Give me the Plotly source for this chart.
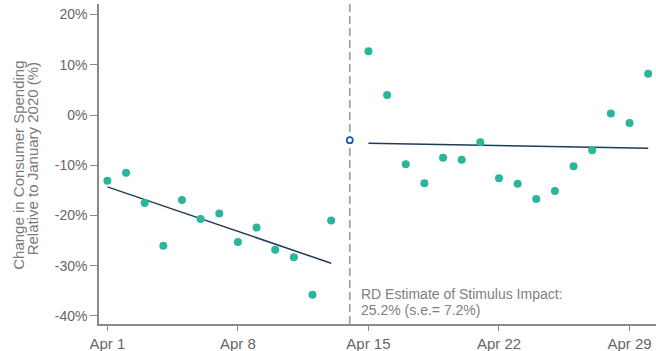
import plotly.graph_objects as go

pre_dates = ["2020-04-%02d" % d for d in range(1, 14)]
pre_values = [-13.1, -11.5, -17.5, -26.0, -16.9, -20.7, -19.6, -25.3, -22.4, -26.8, -28.3, -35.8, -21.0]
post_dates = ["2020-04-%02d" % d for d in range(15, 31)]
post_values = [12.7, 4.0, -9.8, -13.6, -8.5, -8.9, -5.4, -12.6, -13.7, -16.7, -15.1, -10.2, -7.0, 0.3, -1.6, 8.2]

pre_fit_dates = ["2020-04-01", "2020-04-13"]
pre_fit_values = [-14.3, -29.5]
post_fit_dates = ["2020-04-15", "2020-04-30"]
post_fit_values = [-5.6, -6.6]

cutoff_date = "2020-04-14"
cutoff_value = -5.0

tick_dates = ["2020-04-01", "2020-04-08", "2020-04-15", "2020-04-22", "2020-04-29"]
tick_labels = ["Apr 1", "Apr 8", "Apr 15", "Apr 22", "Apr 29"]
y_ticks = [20, 10, 0, -10, -20, -30, -40]
y_tick_labels = ["20%", "10%", "0%", "-10%", "-20%", "-30%", "-40%"]

title_lines = ["Change in Consumer Spending", "Relative to January 2020 (%)"]
note_lines = ["RD Estimate of Stimulus Impact:", "25.2% (s.e.= 7.2%)"]

teal = "#2bb59b"
navy = "#1f3b5c"
gray = "#8a8a8a"
text_gray = "#666666"
FONT = "Arial, Liberation Sans, sans-serif"

fig = go.Figure()
fig.add_trace(go.Scatter(x=pre_fit_dates, y=pre_fit_values, mode="lines",
                         line=dict(color=navy, width=1.5), hoverinfo="skip"))
fig.add_trace(go.Scatter(x=post_fit_dates, y=post_fit_values, mode="lines",
                         line=dict(color=navy, width=1.5), hoverinfo="skip"))
fig.add_trace(go.Scatter(x=pre_dates, y=pre_values, mode="markers",
                         marker=dict(color=teal, size=8)))
fig.add_trace(go.Scatter(x=post_dates, y=post_values, mode="markers",
                         marker=dict(color=teal, size=8)))
fig.add_trace(go.Scatter(x=[cutoff_date], y=[cutoff_value], mode="markers",
                         marker=dict(color="white", size=6, line=dict(color="#1f5f9f", width=1.8))))

fig.add_shape(type="line", xref="x", yref="paper", x0=cutoff_date, x1=cutoff_date, y0=0, y1=1,
              line=dict(color=gray, width=1.3, dash="8px,4px"), layer="below")

for txt, yv in zip(note_lines, [-35.6, -38.8]):
    fig.add_annotation(x="2020-04-14 12:00", y=yv, xref="x", yref="y", xanchor="left", yanchor="middle",
                       align="left", showarrow=False, text=txt,
                       font=dict(family=FONT, size=14, color="#808080"))

for txt, xp, yp in zip(title_lines, [-0.1440, -0.1195], [0.497, 0.516]):
    fig.add_annotation(x=xp, y=yp, xref="paper", yref="paper", xanchor="center", yanchor="middle",
                       showarrow=False, text=txt, textangle=-90,
                       font=dict(family=FONT, size=15, color="#7a7a7a"))

fig.update_layout(
    width=656, height=351,
    margin=dict(l=99, r=0, t=4, b=27),
    paper_bgcolor="white", plot_bgcolor="white",
    showlegend=False,
    font=dict(family=FONT, color=text_gray),
)
fig.update_xaxes(
    range=["2020-03-31 13:12", "2020-04-30 10:05"],
    tickvals=tick_dates, ticktext=tick_labels,
    showgrid=False, zeroline=False,
    showline=True, linecolor=gray, linewidth=1.5,
    ticks="outside", ticklen=5, tickcolor=gray, tickwidth=1.3,
    tickfont=dict(size=15, color=text_gray),
    automargin=False,
)
fig.update_yaxes(
    range=[-41.6, 22.1],
    tickvals=y_ticks, ticktext=y_tick_labels,
    showgrid=False, zeroline=False,
    showline=True, linecolor=gray, linewidth=1.5,
    ticks="outside", ticklen=7, tickcolor=gray, tickwidth=1.3,
    tickfont=dict(size=14, color=text_gray),
    automargin=False,
)

fig.write_html("out.html", config={"displayModeBar": False},
               post_script="document.body.style.margin='0';")
